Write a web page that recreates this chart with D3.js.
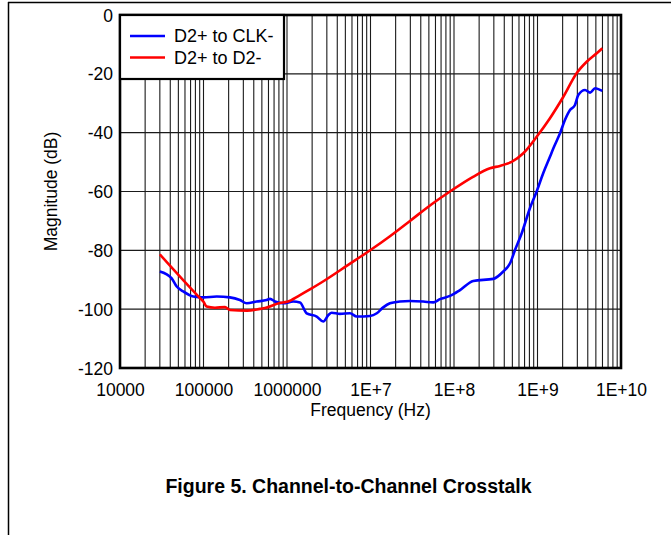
<!DOCTYPE html>
<html>
<head>
<meta charset="utf-8">
<script src="https://cdn.jsdelivr.net/npm/d3@7"></script>
<style>
  html, body { margin: 0; padding: 0; background: #fff; }
  svg { display: block; }
  text { font-family: Arial, "Liberation Sans", Helvetica, sans-serif; fill: #000; }
</style>
</head>
<body>
<svg id="chart" width="671" height="535"></svg>
<script>
// ---- Data ----
const seriesNames = ["D2+ to CLK-", "D2+ to D2-"];
const seriesColors = ["#0000ff", "#ff0000"];

const clkFreq = [3.0e4, 4.16e4, 4.78e4, 5.73e4, 7.55e4, 1.0e5, 1.44e5, 2.07e5, 2.73e5, 3.29e5, 4.33e5, 5.71e5, 6.26e5, 7.18e5, 9.03e5, 1.19e6, 1.43e6, 1.72e6, 2.27e6, 2.72e6, 3.13e6, 3.43e6, 4.31e6, 5.68e6, 6.83e6, 9.86e6, 1.19e7, 1.42e7, 1.71e7, 2.25e7, 2.97e7, 4.29e7, 5.65e7, 6.79e7, 8.95e7, 1.18e8, 1.70e8, 2.96e8, 3.89e8, 4.69e8, 5.38e8, 6.47e8, 8.13e8, 9.77e8, 1.17e9, 1.41e9, 1.55e9, 1.86e9, 2.13e9, 2.45e9, 2.81e9, 3.08e9, 3.71e9, 4.26e9, 4.89e9, 5.35e9, 5.97e9];
const clkDb = [-87.2, -89.5, -92.3, -94.0, -95.7, -96.0, -95.7, -96.0, -96.9, -98.0, -97.4, -96.9, -96.5, -97.4, -98.0, -97.4, -97.7, -101.4, -102.5, -104.2, -102.0, -101.2, -101.6, -101.4, -102.5, -102.3, -101.4, -99.4, -98.0, -97.4, -97.2, -97.4, -97.7, -96.6, -95.5, -93.5, -90.4, -89.7, -87.2, -84.4, -79.9, -74.2, -65.6, -60.0, -53.8, -48.2, -45.3, -40.2, -35.7, -32.3, -30.6, -27.2, -25.5, -26.4, -24.9, -25.2, -25.8];

const d2Freq = [3.0e4, 8.83e4, 1.0e5, 1.09e5, 1.37e5, 1.81e5, 2.07e5, 3.32e5, 4.75e5, 5.46e5, 8.2e5, 1.0e6, 1.43e6, 1.88e6, 2.70e6, 5.24e6, 6.52e6, 1.0e7, 1.71e7, 2.97e7, 5.61e7, 8.95e7, 1.69e8, 2.70e8, 3.55e8, 4.28e8, 4.91e8, 6.76e8, 9.77e8, 1.41e9, 2.04e9, 2.94e9, 3.88e9, 5.12e9, 5.97e9];
const d2Db = [-81.4, -95.9, -97.5, -99.1, -99.5, -99.3, -100.3, -100.5, -99.9, -99.6, -97.9, -97.5, -95.2, -93.3, -90.6, -85.2, -83.4, -79.9, -75.2, -70.0, -64.0, -60.0, -55.0, -52.1, -51.3, -50.6, -49.9, -47.0, -41.4, -35.1, -27.8, -19.8, -15.9, -13.0, -11.3];

const xTickValues = [1e4, 1e5, 1e6, 1e7, 1e8, 1e9, 1e10];
const xTickLabels = ["10000", "100000", "1000000", "1E+7", "1E+8", "1E+9", "1E+10"];
const yTickValues = [0, -20, -40, -60, -80, -100, -120];

const xTitle = "Frequency (Hz)";
const yTitle = "Magnitude (dB)";
const figTitle = "Figure 5. Channel-to-Channel Crosstalk";

// ---- Layout ----
const svg = d3.select("#chart");
const L = 120, R = 621, T = 15, B = 368;

const x = d3.scaleLog().domain([1e4, 1e10]).range([L, R]);
const y = d3.scaleLinear().domain([-120, 0]).range([B, T]);

// outer page frame lines
svg.append("line").attr("x1", 8).attr("x2", 671).attr("y1", 2.5).attr("y2", 2.5)
  .attr("stroke", "#000").attr("stroke-width", 1.5);
svg.append("line").attr("x1", 8.5).attr("x2", 8.5).attr("y1", 2).attr("y2", 535)
  .attr("stroke", "#000").attr("stroke-width", 1.5);

// grid
const minor = [];
for (let e = 4; e < 10; e++) for (let m = 1; m <= 9; m++) minor.push(m * Math.pow(10, e));
minor.push(1e10);

const grid = svg.append("g");
grid.selectAll("line.v").data(minor).enter().append("line")
  .attr("x1", d => x(d)).attr("x2", d => x(d))
  .attr("y1", T).attr("y2", B)
  .attr("stroke", "#1a1a1a").attr("stroke-width", 1.1);
grid.selectAll("line.h").data(yTickValues).enter().append("line")
  .attr("x1", L).attr("x2", R)
  .attr("y1", d => y(d)).attr("y2", d => y(d))
  .attr("stroke", "#1a1a1a").attr("stroke-width", 1.1);

// clip
svg.append("clipPath").attr("id", "clip").append("rect")
  .attr("x", L).attr("y", T).attr("width", R - L).attr("height", B - T);

const line = d3.line().x(d => x(d[0])).y(d => y(d[1])).curve(d3.curveMonotoneX);
const series = [d3.zip(clkFreq, clkDb), d3.zip(d2Freq, d2Db)];

svg.append("g").attr("clip-path", "url(#clip)")
  .selectAll("path").data(series).enter().append("path")
  .attr("d", line)
  .attr("fill", "none")
  .attr("stroke", (d, i) => seriesColors[i])
  .attr("stroke-width", 2.6)
  .attr("stroke-linejoin", "round");

// axes (labels only)
const xAxis = d3.axisBottom(x).tickValues(xTickValues)
  .tickFormat((d, i) => xTickLabels[i]).tickSize(0).tickPadding(0);
const gx = svg.append("g").attr("transform", `translate(0,${B})`).call(xAxis);
gx.select(".domain").remove();
gx.selectAll("text").attr("dy", null).attr("y", 28)
  .style("font-size", "17.5px").style("font-family", "Arial, 'Liberation Sans', sans-serif");

const yAxis = d3.axisLeft(y).tickValues(yTickValues).tickFormat(d => d).tickSize(0).tickPadding(0);
const gy = svg.append("g").attr("transform", `translate(${L - 7},0)`).call(yAxis);
gy.select(".domain").remove();
gy.selectAll("text").attr("dy", "0.35em")
  .style("font-size", "17.5px").style("font-family", "Arial, 'Liberation Sans', sans-serif");

// plot frame
svg.append("rect").attr("x", L).attr("y", T).attr("width", R - L).attr("height", B - T)
  .attr("fill", "none").attr("stroke", "#000").attr("stroke-width", 2.6);

// legend
const lg = svg.append("g");
lg.append("rect").attr("x", L).attr("y", T).attr("width", 164).attr("height", 64)
  .attr("fill", "#fff").attr("stroke", "#000").attr("stroke-width", 2.2);
seriesNames.forEach((name, i) => {
  const yy = 36 + i * 21.5;
  lg.append("line").attr("x1", 130).attr("x2", 165).attr("y1", yy).attr("y2", yy)
    .attr("stroke", seriesColors[i]).attr("stroke-width", 2.6);
  lg.append("text").attr("x", 174).attr("y", yy).attr("dy", "0.36em")
    .style("font-size", "18px").text(name);
});

// axis titles
svg.append("text").attr("x", (L + R) / 2).attr("y", 416).attr("text-anchor", "middle")
  .style("font-size", "17.5px").text(xTitle);
svg.append("text").attr("transform", `translate(57,${(T + B) / 2}) rotate(-90)`)
  .attr("text-anchor", "middle").style("font-size", "17.5px").text(yTitle);

// figure caption
svg.append("text").attr("x", 348.5).attr("y", 493).attr("text-anchor", "middle")
  .style("font-size", "19.5px").style("font-weight", "bold").text(figTitle);
</script>
</body>
</html>
